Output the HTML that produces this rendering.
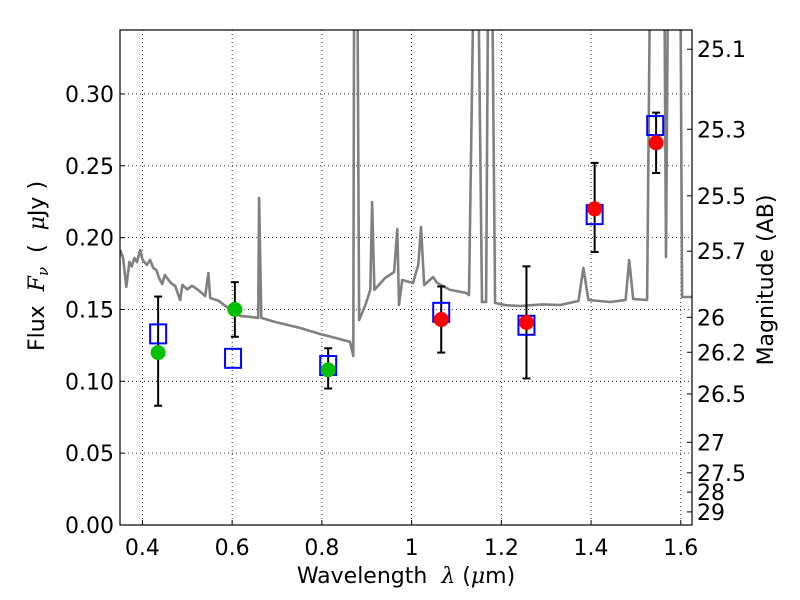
<!DOCTYPE html>
<html><head><meta charset="utf-8"><style>
html,body{margin:0;padding:0;background:#fff;}
svg{display:block;font-family:"DejaVu Sans","Liberation Sans",sans-serif;}
</style></head><body>
<svg id="chart" width="800" height="600" viewBox="0 0 800 600" xmlns="http://www.w3.org/2000/svg">
<defs><clipPath id="plotclip"><rect x="120" y="30" width="572" height="495"/></clipPath></defs>
<rect x="0" y="0" width="800" height="600" fill="#fff"/>
<g id="grid"></g>
<g id="spec" clip-path="url(#plotclip)"></g>
<g id="marks"></g>
<rect x="120" y="30" width="572" height="495" fill="none" stroke="#000" stroke-width="1.2"/>
<g id="axes"></g>
<text x="406" y="583" font-size="22" text-anchor="middle" xml:space="preserve">Wavelength  <tspan font-family="DejaVu Serif, serif" font-style="italic">λ</tspan> (<tspan font-family="DejaVu Serif, serif" font-style="italic">μ</tspan>m)</text>
<text transform="translate(44,266) rotate(-90)" font-size="22" text-anchor="middle" xml:space="preserve">Flux  <tspan font-family="DejaVu Serif, serif" font-style="italic">F</tspan><tspan font-family="DejaVu Serif, serif" font-style="italic" font-size="15" dy="4">ν</tspan><tspan dy="-4">  (  </tspan><tspan font-family="DejaVu Serif, serif" font-style="italic">μ</tspan>Jy )</text>
<text transform="translate(773,280) rotate(-90)" font-size="22" text-anchor="middle">Magnitude (AB)</text>
</svg>
<script>
const xTicks=[0.4,0.6,0.8,1.0,1.2,1.4,1.6];
const xTickLabels=["0.4","0.6","0.8","1","1.2","1.4","1.6"];
const yTicks=[0,0.05,0.10,0.15,0.20,0.25,0.30];
const yTickLabels=["0.00","0.05","0.10","0.15","0.20","0.25","0.30"];
const magTicks=[25.1,25.3,25.5,25.7,26,26.2,26.5,27,27.5,28,29];
const magTickLabels=["25.1","25.3","25.5","25.7","26","26.2","26.5","27","27.5","28","29"];
const specWave=[0.3505,0.357,0.364,0.371,0.376,0.382,0.388,0.395,0.400,0.404,0.410,0.417,0.424,0.431,0.437,0.444,0.450,0.458,0.465,0.473,0.484,0.489,0.500,0.510,0.518,0.530,0.540,0.547,0.551,0.570,0.585,0.600,0.618,0.641,0.658,0.660,0.665,0.696,0.752,0.796,0.830,0.863,0.870,0.872,0.879,0.883,0.897,0.908,0.912,0.917,0.941,0.961,0.968,0.972,0.979,1.003,1.015,1.021,1.028,1.048,1.057,1.086,1.121,1.128,1.139,1.148,1.157,1.166,1.171,1.179,1.186,1.210,1.242,1.290,1.331,1.372,1.383,1.394,1.443,1.477,1.485,1.494,1.525,1.532,1.563,1.567,1.572,1.599,1.603,1.626];
const specFlux=[0.1914,0.1858,0.1657,0.1831,0.1800,0.1858,0.1830,0.1914,0.1850,0.1831,0.1810,0.1845,0.1790,0.1775,0.1720,0.1677,0.1740,0.1705,0.1680,0.1664,0.1566,0.1670,0.1640,0.1665,0.1650,0.1620,0.1594,0.1754,0.1580,0.1560,0.1524,0.1497,0.1455,0.1448,0.1441,0.2276,0.1441,0.1413,0.1371,0.1329,0.1302,0.1274,0.1176,0.40,0.40,0.1427,0.1531,0.1636,0.2248,0.1636,0.1719,0.1761,0.2060,0.1531,0.1705,0.1684,0.1810,0.2074,0.1670,0.1726,0.1684,0.1636,0.1615,0.1601,0.40,0.40,0.1552,0.1552,0.40,0.40,0.1545,0.1530,0.1524,0.1535,0.1531,0.1559,0.1789,0.1566,0.1552,0.1566,0.1844,0.1573,0.1566,0.40,0.40,0.1865,0.40,0.40,0.1587,0.1587];
const greenWave=[0.435,0.606,0.814];
const greenFlux=[0.120,0.150,0.108];
const greenErrLo=[0.083,0.131,0.095];
const greenErrHi=[0.159,0.169,0.123];
const redWave=[1.066,1.256,1.408,1.545];
const redFlux=[0.143,0.141,0.220,0.266];
const redErrLo=[0.120,0.102,0.190,0.245];
const redErrHi=[0.166,0.180,0.252,0.287];
const modelWave=[0.435,0.602,0.814,1.066,1.256,1.408,1.543];
const modelFlux=[0.133,0.116,0.111,0.148,0.139,0.216,0.278];

const NS="http://www.w3.org/2000/svg";
const X0=120,X1=692,Y0=525,Y1=30,XMIN=0.35,XMAX=1.625,YMIN=0,YMAX=0.3445;
function sx(v){return X0+(v-XMIN)/(XMAX-XMIN)*(X1-X0);}
function sy(v){return Y0-(v-YMIN)/(YMAX-YMIN)*(Y0-Y1);}
function mk(tag,attrs,parent){const e=document.createElementNS(NS,tag);for(const k in attrs)e.setAttribute(k,attrs[k]);parent.appendChild(e);return e;}
const grid=document.getElementById('grid'),axes=document.getElementById('axes'),spec=document.getElementById('spec'),marks=document.getElementById('marks');

xTicks.forEach((t,i)=>{const x=sx(t);
 let g=mk('line',{x1:x,x2:x,y1:Y1,y2:Y0,stroke:'#000','stroke-width':0.8,'stroke-dasharray':'1,3'},grid);
 
 let tk=mk('line',{x1:x,x2:x,y1:Y0,y2:Y0-5,stroke:'#000'},axes);
 
 let tt=mk('text',{x:x,y:555,'font-size':22,'text-anchor':'middle'},axes);tt.textContent=xTickLabels[i];
 
});
yTicks.forEach((t,i)=>{const y=sy(t);
 if(t>0){let g=mk('line',{x1:X0,x2:X1,y1:y,y2:y,stroke:'#000','stroke-width':0.8,'stroke-dasharray':'1,3'},grid);
 }
 let tk=mk('line',{x1:X0,x2:X0+5,y1:y,y2:y,stroke:'#000'},axes);
 
 let tt=mk('text',{x:114,y:y+8,'font-size':22,'text-anchor':'end'},axes);tt.textContent=yTickLabels[i];
 
});
magTicks.forEach((m,i)=>{const f=Math.pow(10,(23.9-m)/2.5);const y=sy(f);
 let tk=mk('line',{x1:X1,x2:X1-5,y1:y,y2:y,stroke:'#000'},axes);
 
 let tt=mk('text',{x:697,y:y+8,'font-size':22,'text-anchor':'start'},axes);tt.textContent=magTickLabels[i];
 
});
let d=specWave.map((w,i)=>(i?'L':'M')+sx(w).toFixed(1)+','+sy(specFlux[i]).toFixed(1)).join(' ');
let p=mk('path',{d:d,fill:'none',stroke:'#808080','stroke-width':2.6,'stroke-linejoin':'round'},spec);


function errbar(w,lo,hi){const x=sx(w);
 let l=mk('line',{x1:x,x2:x,y1:sy(lo),y2:sy(hi),stroke:'#000','stroke-width':2},marks);
 
 [lo,hi].forEach(v=>{let c=mk('line',{x1:x-4,x2:x+4,y1:sy(v),y2:sy(v),stroke:'#000','stroke-width':2},marks);
 });
}
greenWave.forEach((w,i)=>errbar(w,greenErrLo[i],greenErrHi[i]));
redWave.forEach((w,i)=>errbar(w,redErrLo[i],redErrHi[i]));
modelWave.forEach((w,i)=>{let r=mk('rect',{x:sx(w)-8,y:sy(modelFlux[i])-9.5,width:16,height:19,fill:'none',stroke:'#0000ff','stroke-width':2},marks);
 });
greenWave.forEach((w,i)=>{let c=mk('circle',{cx:sx(w),cy:sy(greenFlux[i]),r:7.5,fill:'#00c000'},marks);
 });
redWave.forEach((w,i)=>{let c=mk('circle',{cx:sx(w),cy:sy(redFlux[i]),r:7.5,fill:'#ff0000'},marks);
 });
</script>
</body></html>
